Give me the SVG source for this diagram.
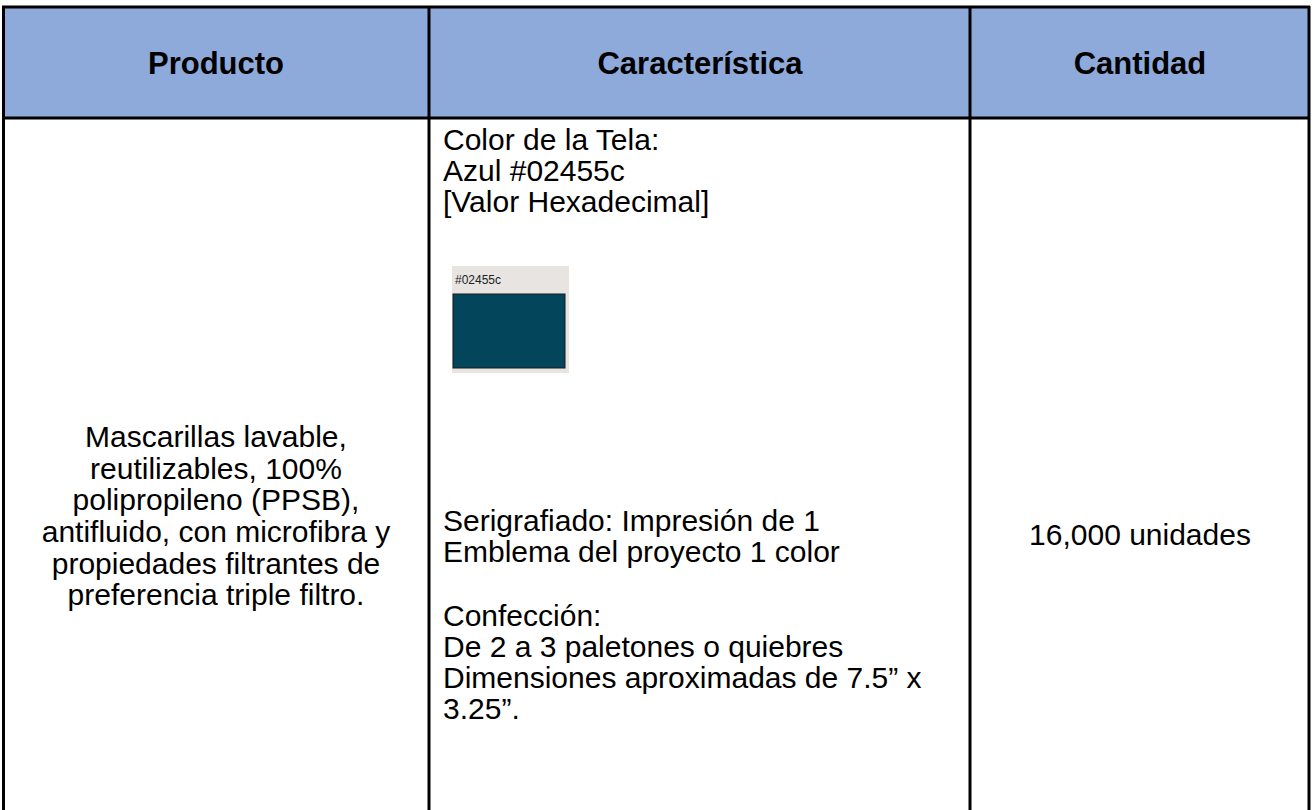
<svg xmlns="http://www.w3.org/2000/svg" width="1313" height="810" viewBox="0 0 1313 810">
<style>
.h{font-family:"Liberation Sans",Arial,sans-serif;font-weight:bold;font-size:31px;fill:#000;text-anchor:middle}
.t{font-family:"Liberation Sans",Arial,sans-serif;font-size:30px;fill:#000}
.c{text-anchor:middle}
.ln{stroke:#000;stroke-width:3;fill:none}
</style>
<rect x="0" y="0" width="1313" height="810" fill="#fff"/>
<rect x="3" y="7" width="1306" height="111" fill="#8EAADB"/>
<g id="grid">
<line class="ln" x1="2" y1="7" x2="1310" y2="7"/>
<line class="ln" x1="2" y1="118" x2="1310" y2="118"/>
<line class="ln" x1="3.5" y1="6" x2="3.5" y2="810"/>
<line class="ln" x1="429" y1="6" x2="429" y2="810"/>
<line class="ln" x1="970" y1="6" x2="970" y2="810"/>
<line class="ln" x1="1309" y1="6" x2="1309" y2="810"/>
</g>
<g id="header">
<text class="h" x="216" y="74">Producto</text>
<text class="h" x="700" y="74">Característica</text>
<text class="h" x="1140" y="74">Cantidad</text>
</g>
<g id="producto">
<text class="t c" x="216" y="447">Mascarillas lavable,</text>
<text class="t c" x="216" y="479">reutilizables, 100%</text>
<text class="t c" x="216" y="510">polipropileno (PPSB),</text>
<text class="t c" x="216" y="542">antifluido, con microfibra y</text>
<text class="t c" x="216" y="574">propiedades filtrantes de</text>
<text class="t c" x="216" y="605">preferencia triple filtro.</text>
</g>
<g id="caracteristica">
<text class="t" x="443" y="150">Color de la Tela:</text>
<text class="t" x="443" y="181">Azul #02455c</text>
<text class="t" x="443" y="212">[Valor Hexadecimal]</text>
<g id="swatch">
<rect x="452" y="266" width="117" height="107" fill="#E8E4E2"/>
<text x="455" y="284" font-family="'Liberation Sans',Arial,sans-serif" font-size="12" fill="#222">#02455c</text>
<rect x="453" y="294" width="112" height="74" fill="#03455B" stroke="#1a1a1a" stroke-width="1"/>
</g>
<text class="t" x="443" y="531">Serigrafiado: Impresión de 1</text>
<text class="t" x="443" y="562">Emblema del proyecto 1 color</text>
<text class="t" x="443" y="626">Confección:</text>
<text class="t" x="443" y="657">De 2 a 3 paletones o quiebres</text>
<text class="t" x="443" y="688">Dimensiones aproximadas de 7.5” x</text>
<text class="t" x="443" y="719">3.25”.</text>
</g>
<g id="cantidad">
<text class="t c" x="1140" y="545">16,000 unidades</text>
</g>
</svg>
